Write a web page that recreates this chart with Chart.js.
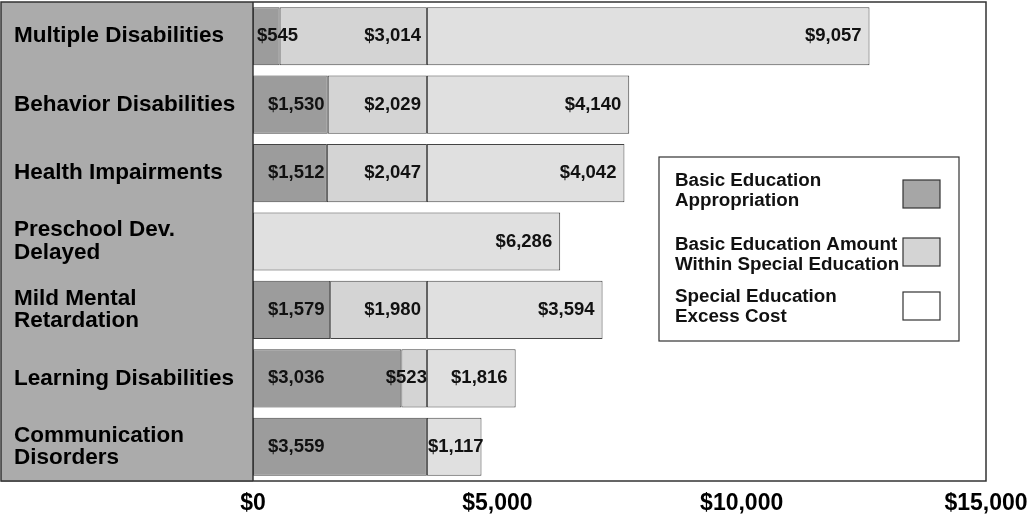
<!DOCTYPE html>
<html>
<head>
<meta charset="utf-8">
<script src="https://cdn.jsdelivr.net/npm/chart.js@4"></script>
<style>
  body { margin: 0; background: #fff; }
  #wrap { width: 1035px; height: 517px; }
</style>
</head>
<body>
<div id="wrap"><canvas id="chart"></canvas></div>
<script>
const categories = [
    ['Multiple Disabilities'],
    ['Behavior Disabilities'],
    ['Health Impairments'],
    ['Preschool Dev.', 'Delayed'],
    ['Mild Mental', 'Retardation'],
    ['Learning Disabilities'],
    ['Communication', 'Disorders']
];
const basicAppropriation = [545, 1530, 1512, null, 1579, 3036, 3559];
const basicWithinSpecial = [3014, 2029, 2047, null, 1980, 523, null];
const excessCost = [9057, 4140, 4042, 6286, 3594, 1816, 1117];
const seriesNames = [
    ['Basic Education', 'Appropriation'],
    ['Basic Education Amount', 'Within Special Education'],
    ['Special Education', 'Excess Cost']
];
const xTicks = [0, 5000, 10000, 15000];

const FONT = "'Liberation Sans', Arial, sans-serif";
const money = v => '$' + v.toLocaleString('en-US');

// gray panel behind the category names + frame round the plot
const framePlugin = {
    id: 'frame',
    beforeDraw(chart) {
        const ctx = chart.ctx, a = chart.chartArea;
        ctx.save();
        ctx.fillStyle = '#ababab';
        ctx.fillRect(1, a.top, a.left - 1, a.bottom - a.top + 1);
        ctx.restore();
    },
    afterDraw(chart) {
        const ctx = chart.ctx, a = chart.chartArea;
        ctx.save();
        ctx.strokeStyle = '#333';
        ctx.lineWidth = 1.5;
        ctx.strokeRect(1, a.top, a.right - 1, a.bottom - a.top);
        ctx.beginPath();
        ctx.moveTo(a.left, a.top);
        ctx.lineTo(a.left, a.bottom);
        ctx.stroke();
        ctx.restore();
    }
};

// value labels on each segment
const valueLabels = {
    id: 'valueLabels',
    afterDatasetsDraw(chart) {
        const ctx = chart.ctx;
        ctx.save();
        ctx.font = 'bold 18.5px ' + FONT;
        ctx.fillStyle = '#111';
        ctx.textBaseline = 'middle';
        chart.data.datasets.forEach((ds, di) => {
            const meta = chart.getDatasetMeta(di);
            meta.data.forEach((bar, i) => {
                const v = ds.data[i];
                if (v == null) return;
                const txt = money(v);
                const w = ctx.measureText(txt).width;
                const x0 = bar.base, x1 = bar.x, seg = x1 - x0;
                let x, align;
                if (di === 0) {
                    align = 'left';
                    x = w + 16 < seg ? x0 + 15 : x0 + 4;
                } else if (di === 1) {
                    align = 'right';
                    x = w < seg - 10 ? x1 - 6 : x1;
                } else {
                    if (w < seg - 12) { align = 'right'; x = x1 - 8; }
                    else { align = 'left'; x = x0 + 1; }
                }
                ctx.textAlign = align;
                ctx.fillText(txt, x, bar.y);
            });
        });
        ctx.restore();
    }
};

// boxed legend, text on the left, swatch on the right
const boxLegend = {
    id: 'boxLegend',
    afterDraw(chart) {
        const ctx = chart.ctx, a = chart.chartArea;
        const bx = a.left + 406, by = 157, bw = 300, bh = 184;
        const swatch = ['#a6a6a6', '#d4d4d4', '#ffffff'];
        const rows = [181, 245, 297];
        const boxes = [180, 238, 292];
        ctx.save();
        ctx.fillStyle = '#fff';
        ctx.fillRect(bx, by, bw, bh);
        ctx.strokeStyle = '#333';
        ctx.lineWidth = 1.2;
        ctx.strokeRect(bx, by, bw, bh);
        ctx.font = 'bold 18.8px ' + FONT;
        ctx.fillStyle = '#111';
        ctx.textAlign = 'left';
        ctx.textBaseline = 'middle';
        seriesNames.forEach((lines, k) => {
            lines.forEach((t, j) => ctx.fillText(t, bx + 16, rows[k] + j * 20));
            ctx.fillStyle = swatch[k];
            ctx.fillRect(bx + 244, boxes[k], 37, 28);
            ctx.strokeRect(bx + 244, boxes[k], 37, 28);
            ctx.fillStyle = '#111';
        });
        ctx.restore();
    }
};

const colors = ['#9c9c9c', '#d4d4d4', '#e0e0e0'];
const seriesData = [basicAppropriation, basicWithinSpecial, excessCost];

new Chart(document.getElementById('chart'), {
    type: 'bar',
    data: {
        labels: categories,
        datasets: seriesData.map((d, k) => ({
            label: seriesNames[k].join(' '),
            data: d,
            backgroundColor: colors[k],
            borderColor: '#444',
            borderWidth: 1,
            borderSkipped: false,
            categoryPercentage: 0.85,
            barPercentage: 1
        }))
    },
    options: {
        indexAxis: 'y',
        responsive: true,
        maintainAspectRatio: false,
        animation: false,
        layout: { padding: { left: 14, right: 49, top: 2, bottom: 0 } },
        plugins: {
            legend: { display: false },
            tooltip: { enabled: false }
        },
        scales: {
            x: {
                stacked: true,
                min: 0,
                max: 15000,
                afterBuildTicks: s => { s.ticks = xTicks.map(v => ({ value: v })); },
                afterFit: s => { s.height = 36; s.paddingLeft = 0; s.paddingRight = 0; },
                grid: { display: false, drawTicks: false },
                border: { display: false },
                ticks: {
                    padding: 9,
                    color: '#000',
                    font: { family: FONT, size: 23, weight: 'bold' },
                    callback: v => money(v)
                }
            },
            y: {
                stacked: true,
                afterFit: s => { s.width = 239; s.paddingTop = 0; s.paddingBottom = 0; },
                grid: { display: false, drawTicks: false },
                border: { display: false },
                ticks: {
                    crossAlign: 'far',
                    padding: 0,
                    color: '#000',
                    font: { family: FONT, size: 22.5, weight: 'bold', lineHeight: 1.0 }
                }
            }
        }
    },
    plugins: [framePlugin, valueLabels, boxLegend]
});
</script>
</body>
</html>
